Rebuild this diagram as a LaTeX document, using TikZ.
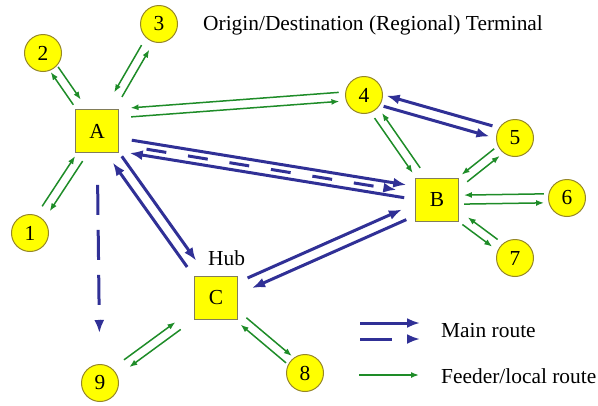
\documentclass[tikz,border=0pt]{standalone}
\usepackage{fontspec}
\setmainfont{Liberation Serif}
\usetikzlibrary{arrows.meta,calc}

\definecolor{routeblue}{RGB}{48,48,150}
\definecolor{feedgreen}{RGB}{30,140,40}
\definecolor{stnyellow}{RGB}{255,255,0}
\definecolor{rimolive}{RGB}{150,135,40}
\definecolor{rimgray}{RGB}{130,125,90}

% two parallel lines, a->b and b->a, each one on its own left side
\newcommand{\twoway}[6]{%
  \draw[#1,shorten <=#5,shorten >=#6] ($(#2)!#4!90:(#3)$) -- ($(#3)!#4!-90:(#2)$);
  \draw[#1,shorten <=#6,shorten >=#5] ($(#3)!#4!90:(#2)$) -- ($(#2)!#4!-90:(#3)$);
}

\begin{document}
\begin{tikzpicture}[x=1pt,y=-1pt,every node/.style={font=\fontsize{21.4}{24}\selectfont},term/.style={draw=rimgray,fill=stnyellow,minimum size=43pt,inner sep=0pt,line width=0.8pt},stn/.style={circle,draw=rimolive,fill=stnyellow,minimum size=37pt,inner sep=0pt,line width=1pt},label/.style={anchor=base west,inner sep=0pt},mainrt/.style={-{Latex[length=13pt,width=10pt]},line width=3pt,draw=routeblue},feedrt/.style={-{Latex[length=8pt,width=6pt]},line width=1.5pt,draw=feedgreen}]
\useasboundingbox (0,0) rectangle (598,405);
\node[label] (title) at (203,30) {Origin/Destination (Regional) Terminal};
\node[term] (A) at (97,131) {A};
\node[term] (B) at (437,200) {B};
\node[term] (C) at (216,298) {C};
\node[label] (hub) at (208,265) {Hub};
\node[stn] (s1) at (30,233) {1};
\node[stn] (s2) at (43,53) {2};
\node[stn] (s3) at (159,24) {3};
\node[stn] (s4) at (364,95) {4};
\node[stn] (s5) at (515,138) {5};
\node[stn] (s6) at (567,198) {6};
\node[stn] (s7) at (515,258) {7};
\node[stn] (s8) at (305,373) {8};
\node[stn] (s9) at (100,383) {9};
% feeder routes
\twoway{feedrt}{A}{s1}{4.5pt}{33pt}{29pt}
\twoway{feedrt}{A}{s2}{4.5pt}{35pt}{20pt}
\twoway{feedrt}{A}{s3}{-4.5pt}{42pt}{27pt}
\twoway{feedrt}{A.39}{s4}{-4.5pt}{12pt}{25pt}
\twoway{feedrt}{s4}{B}{-4.5pt}{25pt}{36pt}
\twoway{feedrt}{s5}{B}{-4.5pt}{23pt}{35pt}
\twoway{feedrt}{B}{s6}{-4.5pt}{27pt}{23pt}
\twoway{feedrt}{B}{s7}{-4.5pt}{35pt}{25pt}
\twoway{feedrt}{C}{s8}{4.5pt}{36pt}{21pt}
\twoway{feedrt}{C}{s9}{4.5pt}{47pt}{33pt}
% main routes
\twoway{mainrt}{A.-32}{B.162}{6.5pt}{12pt}{10pt}
\twoway{mainrt}{A}{C}{5.5pt}{35pt}{42pt}
\twoway{mainrt}{C}{B}{5.5pt}{37pt}{36pt}
\twoway{mainrt}{s4}{s5}{-5.5pt}{22pt}{25pt}
\draw[mainrt,dash pattern=on 20pt off 22pt,shorten <=28pt,shorten >=19pt] (A.-32) -- (B.162);
\draw[mainrt,dash pattern=on 30pt off 15pt,shorten <=32pt,shorten >=31pt] (A) -- (s9);
% legend
\coordinate (k1a) at (360,323);
\coordinate (k1b) at (420,323);
\coordinate (k2a) at (360,339);
\coordinate (k2b) at (420,339);
\coordinate (k3a) at (359,375);
\coordinate (k3b) at (419,375);
\draw[mainrt] (k1a) -- (k1b);
\draw[mainrt,dash pattern=on 32pt off 40pt] (k2a) -- (k2b);
\draw[feedrt] (k3a) -- (k3b);
\node[label] (keymain) at (441,337) {Main route};
\node[label] (keyfeed) at (441,383) {Feeder/local route};
\end{tikzpicture}
\end{document}
